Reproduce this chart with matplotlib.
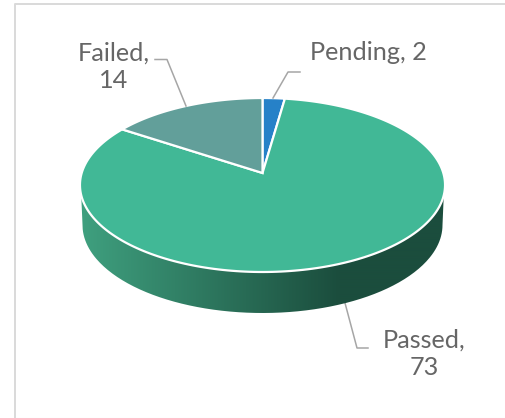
import matplotlib
matplotlib.use("Agg")
import matplotlib.pyplot as plt
import numpy as np
from matplotlib.colors import LinearSegmentedColormap
from matplotlib.patches import PathPatch
from matplotlib.path import Path

categories = ["Pending", "Passed", "Failed"]
values = [2, 73, 14]
colors = ["#2681C8", "#41B896", "#629F9A"]

# pie geometry in pixels, the tilt is a small perspective
cx = 262.5
radius = 180.8
top_y = 98
mid_y = 173
bottom_y = 272
persp = abs((top_y + bottom_y - 2 * mid_y) / (bottom_y - top_y))
scale = top_y + top_y * persp - mid_y


def project(theta):
    # theta is clockwise from twelve o'clock
    u = np.sin(theta)
    v = np.cos(theta)
    d = 1 + persp * v
    return cx + radius * u / d, (scale * v + mid_y) / d


fig = plt.figure(figsize=(5.05, 4.18), dpi=100)
ax = fig.add_axes([0, 0, 1, 1])
ax.set_xlim(0, 505)
ax.set_ylim(418, 0)
ax.axis("off")

# card border
ax.plot([14.5, 14.5, 505], [418, 4.2, 4.2], color="#d9d9d9", lw=1.4)
ax.plot([14.5, 505], [417.5, 417.5], color="#f0f0f0", lw=0.8)

# side wall with the horizontal shading
t = np.linspace(np.pi, 2 * np.pi, 200)
wall_x = 262.5 + 180 * np.cos(t)
wall_y = 225 - 88 * np.sin(t)
wall_x = np.r_[81, wall_x, 444]
wall_y = np.r_[190, wall_y, 190]
wall = PathPatch(Path(np.c_[wall_x, wall_y]), fc="none", ec="none")
ax.add_patch(wall)
wall_cmap = LinearSegmentedColormap.from_list("wall", ["#3FA07F", "#1B4D3D"])
shade = np.clip((np.linspace(80, 445, 365) - 80) / 260, 0, 1)[None, :]
img = ax.imshow(shade, cmap=wall_cmap, extent=[80, 445, 320, 180],
                aspect="auto", interpolation="bilinear", zorder=2)
img.set_clip_path(wall)
ax.set_xlim(0, 505)
ax.set_ylim(418, 0)

# slices, clockwise from the top
total = sum(values)
start = 0.0
for val, col in zip(values, colors):
    sweep = val / total * 2 * np.pi
    th = np.linspace(start, start + sweep, 240)
    xs, ys = project(th)
    ax.fill(np.r_[cx, xs], np.r_[mid_y, ys], fc=col, ec="white", lw=1.6,
            joinstyle="miter", zorder=3)
    start += sweep

# leader lines
line_col = "#a6a6a6"
ax.plot([155, 167, 186], [59.5, 59.5, 106], color=line_col, lw=1.1, zorder=4)
ax.plot([300, 288, 273], [72, 72, 98], color=line_col, lw=1.1, zorder=4)
ax.plot([345, 357, 368], [303, 348, 348], color=line_col, lw=1.1, zorder=1)

# labels
label_font = dict(family="Lato", weight="regular", fontsize=18.2, color="#666666",
                  ha="center", va="center", linespacing=1.25)
ax.text(113.5, 67, f"{categories[2]},\n{values[2]}", **label_font)
ax.text(368, 52, f"{categories[0]}, {values[0]}", **label_font)
ax.text(424, 353.5, f"{categories[1]},\n{values[1]}", **label_font)

fig.savefig("out.png", dpi=100)
